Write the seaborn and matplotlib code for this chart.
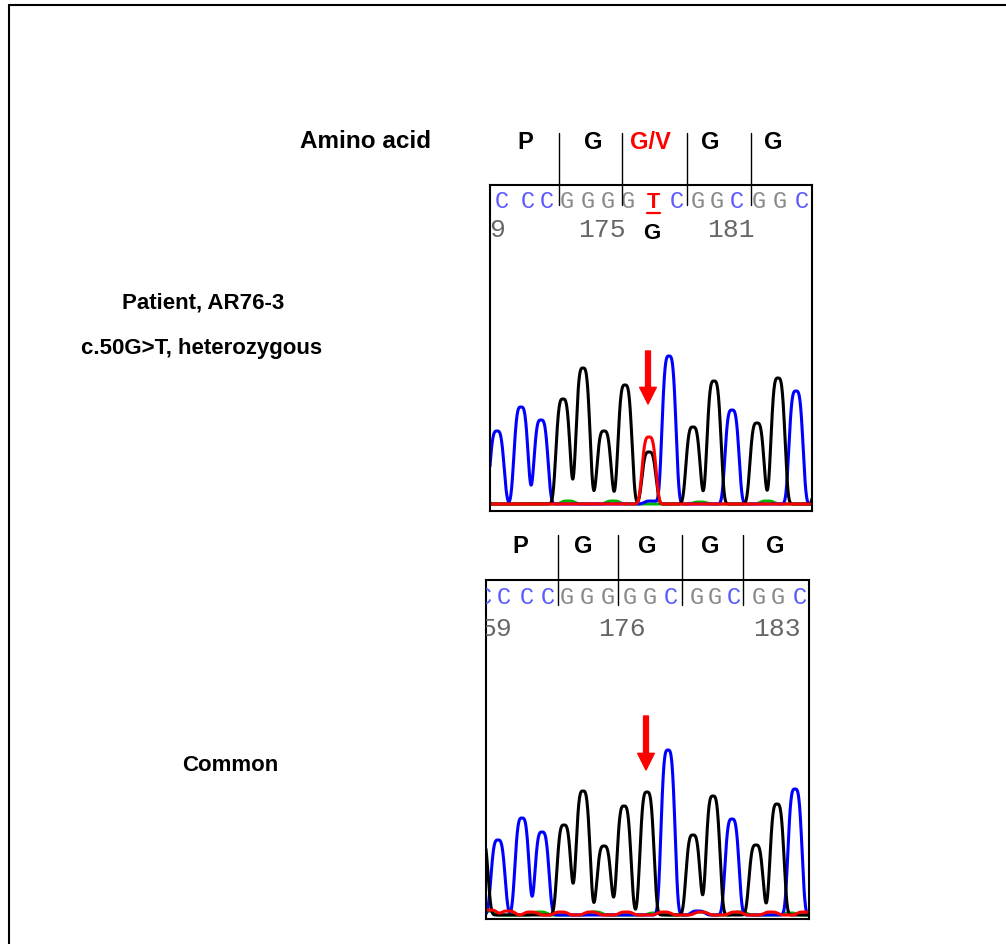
"""
Sanger trace figure: patient AR76-3 (c.50G>T, heterozygous) vs common sequence.
"""

import matplotlib
matplotlib.use('Agg')
import matplotlib.pyplot as plt
import numpy as np
import pandas as pd
import seaborn as sns
from matplotlib.lines import Line2D

W, H = 1006, 945

# called bases under the peaks (read left to right)
bases = ['C', 'C', 'C', 'G', 'G', 'G', 'G', 'G', 'C', 'G', 'G', 'C', 'G', 'G', 'C']

# patient trace: peak scan positions and heights
patient_scan = [7, 31, 51, 73, 93, 114, 135, 159, 179, 203, 224, 242, 267, 288, 306]
patient_height = [73, 97, 84, 105, 136, 73, 119, 52, 148, 77, 123, 94, 81, 126, 113]
patient_extra_base = ['G', 'G', 'T', 'C', 'A', 'A', 'A', 'A']
patient_extra_scan = [-12, 333, 159, 161, 78, 123, 210, 277]
patient_extra_height = [90, 120, 67, 3, 3, 3, 2, 3]

# common (reference) trace
common_scan = [12, 36, 56, 78, 97, 118, 138, 161, 182, 207, 227, 246, 270, 291, 309]
common_height = [75, 97, 83, 90, 124, 69, 109, 123, 165, 80, 119, 96, 70, 111, 126]
common_extra_base = ['G', 'C', 'A', 'A', 'A', 'A', 'A', 'A', 'A',
                     'T', 'T', 'T', 'T', 'T', 'T', 'T', 'T', 'T', 'T', 'T']
common_extra_scan = [-5, 212, 1, 54, 109, 169, 214, 254, 304,
                     4, 22, 45, 75, 105, 140, 178, 215, 250, 285, 318]
common_extra_height = [80, 4, 4, 3, 3, 2, 3, 3, 2,
                       5, 4, 3, 3, 3, 3, 3, 3, 3, 3, 3]

# sequence text rows
amino_top = ['P', 'G', 'G/V', 'G', 'G']
amino_bottom = ['P', 'G', 'G', 'G', 'G']
seq_top = list('CCCGGGGTCGGCGGC')
seq_bottom = list('CCCCGGGGGCGGCGGC')

BASE_COLORS = {'A': '#00b400', 'C': '#0000ff', 'G': '#000000', 'T': '#ff0000'}
SEQ_COLORS = {'C': '#5a5aff', 'G': '#8a8a8a'}


def build_trace(scan, height, base_list, extra_base, extra_scan, extra_height,
                width=6.5, power=3.5):
    """Sum peak shapes per dye channel into a long-format frame."""
    peaks = pd.DataFrame({
        'base': list(base_list) + list(extra_base),
        'scan': list(scan) + list(extra_scan),
        'height': list(height) + list(extra_height),
    })
    grid = np.linspace(-12, 336, 1400)
    frames = []
    for base in ['A', 'C', 'G', 'T']:
        sub = peaks[peaks['base'] == base]
        signal = np.zeros_like(grid)
        for _, row in sub.iterrows():
            signal += row['height'] * np.exp(-0.5 * np.abs((grid - row['scan']) / width) ** power)
        frames.append(pd.DataFrame({'scan': grid, 'signal': signal, 'base': base}))
    return pd.concat(frames, ignore_index=True)


def draw_trace(ax, df, xlim, ylim):
    sns.lineplot(data=df, x='scan', y='signal', hue='base', hue_order=['A', 'C', 'G', 'T'],
                 palette=BASE_COLORS, estimator=None, sort=False, linewidth=2.2,
                 legend=False, ax=ax)
    ax.set_xlim(*xlim)
    ax.set_ylim(*ylim)
    ax.set_xticks([])
    ax.set_yticks([])
    ax.set_xlabel('')
    ax.set_ylabel('')
    for spine in ax.spines.values():
        spine.set_visible(True)
        spine.set_color('black')
        spine.set_linewidth(1.5)


def ftext(fig, x, y, s, **kw):
    fig.text(x / W, 1 - y / H, s, **kw)


def vline(fig, x, y0, y1):
    fig.add_artist(Line2D([x / W, x / W], [1 - y0 / H, 1 - y1 / H], color='black', lw=1.0,
                          zorder=5))


sns.set_theme(style='white')
plt.rcParams['font.family'] = ['Liberation Sans', 'DejaVu Sans']
plt.rcParams['text.color'] = 'black'

fig = plt.figure(figsize=(W / 100, H / 100), dpi=100)

# outer frame (top and left edge only)
fig.add_artist(Line2D([9 / W, 1], [1 - 6 / H, 1 - 6 / H], color='black', lw=1.5))
fig.add_artist(Line2D([9 / W, 9 / W], [1 - 6 / H, 0], color='black', lw=1.5))

# --- patient panel ---
top_left, top_base = 490, 505
ax_top = fig.add_axes([top_left / W, 1 - 512 / H, 322 / W, 326 / H])
patient_df = build_trace(patient_scan, patient_height, bases,
                         patient_extra_base, patient_extra_scan, patient_extra_height)
draw_trace(ax_top, patient_df, (0, 322), (-7, 319))
ax_top.annotate('', xy=(158, 100), xytext=(158, 153),
                arrowprops=dict(facecolor='red', edgecolor='red', width=3.5,
                                headwidth=12, headlength=12, shrink=0))

seq_top_x = [502, 528, 547, 567, 588, 608, 628, 653, 677, 698, 717, 737, 759, 780, 802]
for ch, x in zip(seq_top, seq_top_x):
    if ch == 'T':
        ax_top.text(x - top_left, top_base - 208, ch, color='red', fontsize=15.5,
                    fontweight='bold', ha='center', va='baseline')
    else:
        ax_top.text(x - top_left, top_base - 208, ch, color=SEQ_COLORS[ch], fontsize=17,
                    family='Liberation Mono', ha='center', va='baseline', clip_on=True)
ax_top.plot([647 - top_left, 660 - top_left], [top_base - 214] * 2, color='red', lw=1.6)
for s, x in zip(['9', '175', '181'], [497, 602, 731]):
    ax_top.text(x - top_left, top_base - 237, s, color='#666666', fontsize=19,
                family='Liberation Mono', ha='center', va='baseline', clip_on=True)
ax_top.text(652 - top_left, top_base - 239, 'G', color='black', fontsize=16,
            fontweight='bold', ha='center', va='baseline')

ftext(fig, 366, 148, 'Amino acid', fontsize=17.5, fontweight='bold', ha='center',
      va='baseline')
for s, x in zip(amino_top, [525, 593, 650, 710, 773]):
    ftext(fig, x, 149, s, fontsize=17, fontweight='bold', ha='center', va='baseline',
          color='red' if '/' in s else 'black')
for x in [559, 622, 687, 751]:
    vline(fig, x, 134, 206)

ftext(fig, 203, 308, 'Patient, AR76-3', fontsize=16, fontweight='bold', ha='center',
      va='baseline')
ftext(fig, 202, 354, 'c.50G>T, heterozygous', fontsize=16, fontweight='bold', ha='center',
      va='baseline')

# --- common panel ---
bot_left, bot_base = 486, 916
ax_bot = fig.add_axes([bot_left / W, 1 - 920 / H, 323 / W, 339 / H])
common_df = build_trace(common_scan, common_height, bases,
                        common_extra_base, common_extra_scan, common_extra_height)
draw_trace(ax_bot, common_df, (0, 323), (-4, 335))
ax_bot.annotate('', xy=(160, 145), xytext=(160, 199),
                arrowprops=dict(facecolor='red', edgecolor='red', width=3.5,
                                headwidth=12, headlength=12, shrink=0))

seq_bot_x = [485, 504, 527, 548, 567, 587, 608, 630, 650, 671, 697, 715, 734, 759, 778, 800]
for ch, x in zip(seq_bottom, seq_bot_x):
    ax_bot.text(x - bot_left, bot_base - 604, ch, color=SEQ_COLORS[ch], fontsize=17,
                family='Liberation Mono', ha='center', va='baseline', clip_on=True)
for s, x in zip(['59', '176', '183'], [496, 622, 777]):
    ax_bot.text(x - bot_left, bot_base - 636, s, color='#666666', fontsize=19,
                family='Liberation Mono', ha='center', va='baseline', clip_on=True)

for s, x in zip(amino_bottom, [520, 583, 647, 710, 775]):
    ftext(fig, x, 553, s, fontsize=17, fontweight='bold', ha='center', va='baseline')
for x in [558, 618, 682, 743]:
    vline(fig, x, 536, 606)

ftext(fig, 230, 771, 'Common', fontsize=16, fontweight='bold', ha='center', va='baseline')

fig.savefig('out.png', dpi=100)
plt.close(fig)
